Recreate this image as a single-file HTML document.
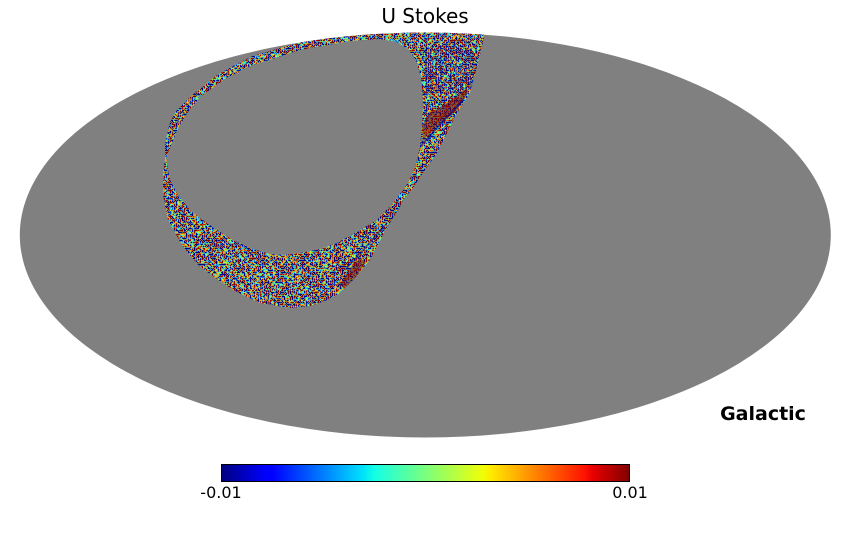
<!DOCTYPE html>
<html>
<head>
<meta charset="utf-8">
<style>
  html, body { margin:0; padding:0; background:#fff; }
  body { width:850px; height:540px; overflow:hidden; }
  svg { display:block; }
  text { font-family: "DejaVu Sans", "Liberation Sans", sans-serif; }
</style>
</head>
<body>
<svg width="850" height="540" viewBox="0 0 850 540" xmlns="http://www.w3.org/2000/svg">
  <defs>
    <clipPath id="ell">
      <ellipse cx="425.3" cy="235" rx="405.5" ry="202.5"/>
    </clipPath>
    <clipPath id="band">
      <path clip-rule="evenodd" d="
        M165,158 L165,145 L167,135 L170,122 L177,110 L190,97 L217,75 L250,57 L300,42 L350,33 L390,28 L440,26 L486,28
        L484,37 L480,55 L476,70 L470,93 L457,113 L447,133 L437,153 L420,177 L413,188 L403,200 L400,207 L387,227
        L370,260 L353,280 L340,293 L325,301 L310,306 L290,308 L260,303 L233,290 L200,267 L183,247 L168,220 L163,195 L163,175 Z
        M166,158 L172,143 L178,128 L188,112 L200,97 L225,79 L250,66 L300,50 L350,41 L380,39 L397,42 L408,49 L416,60
        L421,77 L423,100 L422,127 L420,147 L415,167 L408,183 L393,203 L377,220 L360,230 L337,243 L320,249 L300,253
        L283,255 L270,254 L250,248 L233,240 L217,230 L200,218 L190,210 L178,195 L170,180 Z"/>
    </clipPath>
    <filter id="noise" filterUnits="userSpaceOnUse" x="150" y="20" width="350" height="300" color-interpolation-filters="sRGB">
      <feTurbulence type="fractalNoise" baseFrequency="0.5" numOctaves="1" seed="7" result="t"/>
      <feColorMatrix in="t" type="matrix" values="1 0 0 0 0  1 0 0 0 0  1 0 0 0 0  0 0 0 0 1" result="g"/>
      <feComponentTransfer in="g" result="s">
        <feFuncR type="linear" slope="4.4" intercept="-1.7"/>
        <feFuncG type="linear" slope="4.4" intercept="-1.7"/>
        <feFuncB type="linear" slope="4.4" intercept="-1.7"/>
      </feComponentTransfer>
      <feComponentTransfer in="s">
        <feFuncR type="table" tableValues="0 0 0 0 0 0 0.081 0.282 0.484 0.685 0.887 1 1 1 1 0.784 0.5"/>
        <feFuncG type="table" tableValues="0 0 0 0.25 0.5 0.75 1 1 1 1 1 0.824 0.593 0.361 0.13 0 0"/>
        <feFuncB type="table" tableValues="0.5 0.784 1 1 1 1 0.887 0.685 0.484 0.282 0.081 0 0 0 0 0 0"/>
      </feComponentTransfer>
    </filter>
    <filter id="speck" filterUnits="userSpaceOnUse" x="150" y="20" width="350" height="300" color-interpolation-filters="sRGB">
      <feTurbulence type="fractalNoise" baseFrequency="0.7" numOctaves="1" seed="21" result="t"/>
      <feColorMatrix in="t" type="matrix" values="0 0 0 0 0.5  0 0 0 0 0.5  0 0 0 0 0.5  0 6 0 0 -3.8"/>
    </filter>
    <pattern id="vstripe" patternUnits="userSpaceOnUse" width="5" height="7">
      <rect x="0" y="0" width="2" height="5" fill="#00008f"/>
      <rect x="3" y="3" width="1" height="3" fill="#0000c8"/>
    </pattern>
    <linearGradient id="jet" x1="0" y1="0" x2="1" y2="0">
      <stop offset="0" stop-color="#000080"/>
      <stop offset="0.11" stop-color="#0000ff"/>
      <stop offset="0.125" stop-color="#0000ff"/>
      <stop offset="0.34" stop-color="#00dbff"/>
      <stop offset="0.35" stop-color="#00e5f7"/>
      <stop offset="0.375" stop-color="#14ffe6"/>
      <stop offset="0.64" stop-color="#eeff08"/>
      <stop offset="0.65" stop-color="#f7f500"/>
      <stop offset="0.66" stop-color="#ffeb00"/>
      <stop offset="0.89" stop-color="#ff1200"/>
      <stop offset="0.91" stop-color="#e80000"/>
      <stop offset="1" stop-color="#800000"/>
    </linearGradient>
  </defs>

  <!-- map background -->
  <ellipse cx="425.3" cy="235" rx="405.5" ry="202.5" fill="#808080"/>

  <g clip-path="url(#ell)">
    <g clip-path="url(#band)">
      <rect x="150" y="20" width="350" height="300" filter="url(#noise)"/>
      <rect x="150" y="20" width="350" height="300" filter="url(#speck)"/>
      <!-- structured fan overlays -->
      <rect x="424" y="46" width="54" height="48" fill="url(#vstripe)" opacity="0.35"/>
      <polygon points="422,125 430,113 447,103 467,88 468,93 457,110 440,123 423,140" fill="#7f0000" opacity="0.55"/>
      <polyline points="420,147 435,130 450,114 463,100" fill="none" stroke="#00008f" stroke-width="2" opacity="0.6"/>
      <polygon points="340,285 350,268 360,258 366,262 355,278 345,290" fill="#7f0000" opacity="0.5"/>
      <polyline points="345,270 365,248 385,225" fill="none" stroke="#00008f" stroke-width="2" opacity="0.45"/>
    </g>
  </g>

  <!-- title -->
  <text x="425" y="23" font-size="20" text-anchor="middle" fill="#000">U Stokes</text>

  <!-- coordinate system label -->
  <text x="763" y="420" font-size="19" font-weight="bold" text-anchor="middle" fill="#000">Galactic</text>

  <!-- colorbar -->
  <rect x="221.5" y="464.5" width="408" height="17" fill="url(#jet)" stroke="#000" stroke-width="1"/>
  <text x="221" y="498" font-size="16" text-anchor="middle" fill="#000">-0.01</text>
  <text x="630" y="498" font-size="16" text-anchor="middle" fill="#000">0.01</text>
</svg>
</body>
</html>
